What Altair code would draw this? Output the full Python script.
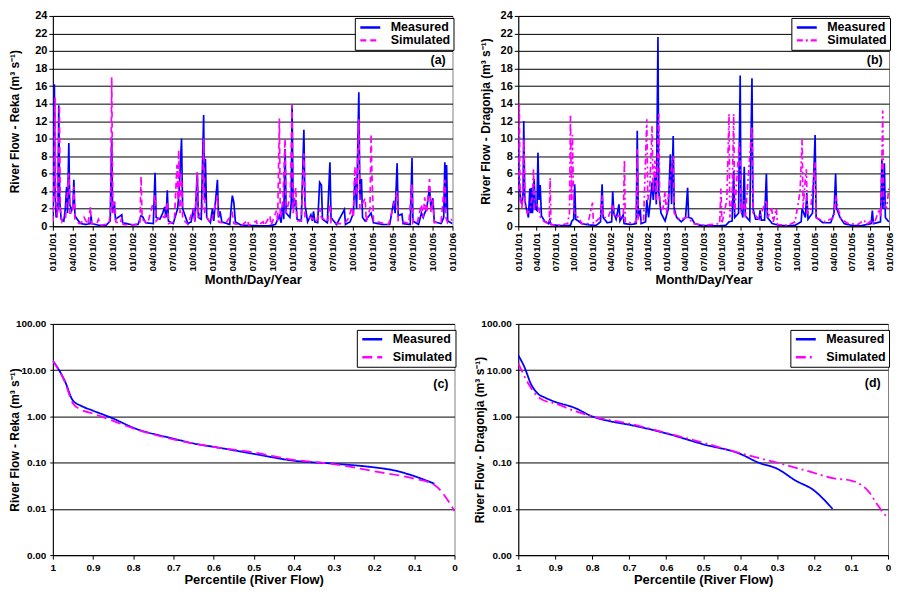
import altair as alt
import pandas as pd

FONT = "Liberation Sans"

REKA_MEASURED = [
    ("2001-01-01", 1.0), ("2001-01-05", 6.0), ("2001-01-08", 16.2), ("2001-01-11", 4.0),
    ("2001-01-16", 1.0), ("2001-01-24", 2.0), ("2001-01-28", 13.8), ("2001-02-01", 3.0),
    ("2001-02-08", 0.8), ("2001-02-20", 0.6), ("2001-02-27", 2.0), ("2001-03-05", 4.5),
    ("2001-03-09", 1.5), ("2001-03-15", 9.5), ("2001-03-19", 2.5), ("2001-03-28", 1.8),
    ("2001-04-03", 2.3), ("2001-04-07", 5.3), ("2001-04-12", 1.2), ("2001-04-25", 0.7),
    ("2001-05-10", 0.3), ("2001-06-01", 0.2), ("2001-06-20", 0.3), ("2001-06-25", 1.2),
    ("2001-06-28", 0.3), ("2001-08-01", 0.1), ("2001-09-01", 0.1), ("2001-09-20", 0.6),
    ("2001-09-27", 10.0), ("2001-10-01", 1.5), ("2001-10-09", 2.8), ("2001-10-14", 0.8),
    ("2001-11-12", 1.3), ("2001-11-16", 0.4), ("2002-01-01", 0.15), ("2002-01-25", 0.2),
    ("2002-02-08", 1.2), ("2002-02-15", 1.1), ("2002-03-01", 0.4), ("2002-04-05", 0.3),
    ("2002-04-13", 6.1), ("2002-04-18", 1.0), ("2002-05-05", 0.8), ("2002-05-18", 1.5),
    ("2002-05-27", 2.2), ("2002-06-02", 1.0), ("2002-06-08", 4.1), ("2002-06-13", 0.6),
    ("2002-07-05", 0.3), ("2002-07-25", 2.0), ("2002-08-01", 4.0), ("2002-08-12", 10.0),
    ("2002-08-17", 2.0), ("2002-09-10", 0.3), ("2002-09-25", 0.5), ("2002-10-05", 2.0),
    ("2002-10-12", 0.6), ("2002-10-23", 6.0), ("2002-10-28", 1.0), ("2002-11-10", 0.8),
    ("2002-11-21", 12.7), ("2002-11-25", 3.0), ("2002-11-29", 7.7), ("2002-12-05", 1.0),
    ("2002-12-22", 0.4), ("2002-12-31", 2.0), ("2003-01-06", 0.6), ("2003-01-23", 5.3),
    ("2003-01-28", 1.0), ("2003-02-04", 1.7), ("2003-02-12", 0.5), ("2003-03-20", 0.2),
    ("2003-04-01", 3.5), ("2003-04-08", 2.7), ("2003-04-15", 0.5), ("2003-05-10", 0.15),
    ("2003-06-15", 0.08), ("2003-08-01", 0.05), ("2003-09-15", 0.05), ("2003-10-15", 0.2),
    ("2003-11-02", 1.2), ("2003-11-10", 0.4), ("2003-11-17", 2.8), ("2003-11-22", 0.8),
    ("2003-11-28", 8.8), ("2003-12-03", 1.5), ("2003-12-20", 1.0), ("2003-12-26", 2.6),
    ("2003-12-30", 13.8), ("2004-01-04", 2.0), ("2004-01-16", 3.0), ("2004-01-22", 0.8),
    ("2004-02-10", 0.6), ("2004-02-22", 11.0), ("2004-02-27", 2.5), ("2004-03-10", 0.5),
    ("2004-03-25", 1.3), ("2004-04-01", 0.6), ("2004-04-06", 1.7), ("2004-04-12", 0.5),
    ("2004-04-25", 0.4), ("2004-05-04", 5.0), ("2004-05-12", 4.7), ("2004-05-17", 0.8),
    ("2004-06-08", 0.4), ("2004-06-20", 7.3), ("2004-06-25", 1.0), ("2004-07-20", 0.2),
    ("2004-08-25", 1.9), ("2004-08-30", 0.2), ("2004-09-20", 0.5), ("2004-10-05", 1.5),
    ("2004-10-12", 5.5), ("2004-10-20", 2.0), ("2004-10-30", 15.3), ("2004-11-04", 3.0),
    ("2004-11-11", 5.4), ("2004-11-16", 1.0), ("2004-11-28", 0.6), ("2004-12-25", 1.5),
    ("2005-01-05", 0.4), ("2005-02-15", 0.2), ("2005-03-20", 0.2), ("2005-04-08", 2.9),
    ("2005-04-14", 1.5), ("2005-04-23", 7.2), ("2005-04-28", 1.2), ("2005-05-15", 1.4),
    ("2005-05-20", 0.3), ("2005-06-22", 0.2), ("2005-06-30", 7.8), ("2005-07-04", 0.6),
    ("2005-07-30", 0.2), ("2005-08-12", 1.5), ("2005-08-20", 1.0), ("2005-08-27", 1.5),
    ("2005-09-05", 2.0), ("2005-09-18", 4.4), ("2005-09-25", 2.0), ("2005-10-03", 3.2),
    ("2005-10-10", 0.5), ("2005-11-10", 0.3), ("2005-11-22", 1.0), ("2005-11-27", 7.3),
    ("2005-12-01", 2.0), ("2005-12-05", 7.0), ("2005-12-10", 0.6), ("2005-12-31", 0.3),
]

REKA_SIMULATED = [
    ("2001-01-01", 0.5), ("2001-01-06", 4.0), ("2001-01-11", 14.7), ("2001-01-14", 3.0),
    ("2001-01-22", 1.0), ("2001-01-31", 13.8), ("2001-02-04", 2.0), ("2001-02-12", 0.5),
    ("2001-02-28", 1.0), ("2001-03-06", 3.0), ("2001-03-15", 6.0), ("2001-03-20", 1.5),
    ("2001-04-01", 1.5), ("2001-04-07", 4.5), ("2001-04-12", 0.8), ("2001-05-01", 0.3),
    ("2001-05-20", 0.6), ("2001-05-24", 1.0), ("2001-06-10", 0.2), ("2001-06-22", 2.2),
    ("2001-06-26", 0.3), ("2001-07-20", 0.2), ("2001-07-28", 0.8), ("2001-08-10", 0.1),
    ("2001-09-15", 0.3), ("2001-09-22", 2.0), ("2001-09-27", 17.0), ("2001-10-02", 1.5),
    ("2001-10-10", 2.8), ("2001-10-16", 0.5), ("2001-11-05", 0.3), ("2001-11-12", 1.0),
    ("2001-11-18", 0.2), ("2001-12-20", 0.1), ("2002-02-03", 0.3), ("2002-02-08", 5.7),
    ("2002-02-13", 0.8), ("2002-03-10", 0.3), ("2002-04-13", 3.5), ("2002-04-18", 0.6),
    ("2002-05-10", 1.2), ("2002-05-27", 1.0), ("2002-06-08", 2.8), ("2002-06-14", 0.3),
    ("2002-07-10", 0.5), ("2002-07-22", 7.0), ("2002-07-27", 3.0), ("2002-07-30", 8.7),
    ("2002-08-05", 1.5), ("2002-08-12", 6.0), ("2002-08-17", 0.8), ("2002-09-10", 0.2),
    ("2002-10-05", 2.0), ("2002-10-12", 0.5), ("2002-10-23", 6.2), ("2002-10-28", 1.0),
    ("2002-11-15", 2.0), ("2002-11-21", 10.0), ("2002-11-26", 1.5), ("2002-12-20", 0.4),
    ("2002-12-31", 1.0), ("2003-01-23", 3.5), ("2003-01-28", 0.5), ("2003-03-01", 0.3),
    ("2003-04-01", 1.5), ("2003-04-08", 0.3), ("2003-05-15", 0.1), ("2003-06-10", 0.7),
    ("2003-06-15", 0.1), ("2003-07-20", 0.6), ("2003-07-25", 0.1), ("2003-08-20", 0.5),
    ("2003-08-25", 0.05), ("2003-09-20", 1.2), ("2003-09-25", 0.1), ("2003-10-20", 1.8),
    ("2003-10-25", 0.5), ("2003-11-02", 12.3), ("2003-11-06", 1.0), ("2003-11-17", 2.0),
    ("2003-11-28", 10.0), ("2003-12-03", 1.5), ("2003-12-22", 3.5), ("2003-12-30", 13.8),
    ("2004-01-04", 1.5), ("2004-01-16", 4.4), ("2004-01-21", 0.6), ("2004-02-10", 0.6),
    ("2004-02-22", 8.3), ("2004-02-27", 1.0), ("2004-03-25", 1.0), ("2004-04-06", 0.8),
    ("2004-04-20", 0.5), ("2004-05-04", 2.0), ("2004-05-12", 1.0), ("2004-06-10", 0.5),
    ("2004-06-20", 2.5), ("2004-06-25", 0.4), ("2004-07-15", 0.3), ("2004-08-25", 0.3),
    ("2004-09-15", 1.0), ("2004-09-27", 2.2), ("2004-10-05", 1.0), ("2004-10-12", 6.8),
    ("2004-10-20", 3.5), ("2004-10-30", 12.2), ("2004-11-04", 2.0), ("2004-11-28", 3.2),
    ("2004-12-03", 0.5), ("2004-12-20", 2.0), ("2004-12-25", 10.5), ("2004-12-29", 6.0),
    ("2005-01-05", 0.6), ("2005-02-10", 0.4), ("2005-03-15", 0.2), ("2005-04-08", 2.5),
    ("2005-04-23", 4.0), ("2005-04-28", 0.6), ("2005-05-20", 0.5), ("2005-06-15", 0.3),
    ("2005-06-30", 4.8), ("2005-07-04", 0.3), ("2005-07-25", 0.5), ("2005-08-12", 2.5),
    ("2005-08-20", 1.0), ("2005-08-27", 3.3), ("2005-09-05", 1.5), ("2005-09-18", 5.4),
    ("2005-09-25", 1.5), ("2005-10-03", 3.0), ("2005-10-10", 0.4), ("2005-11-10", 0.5),
    ("2005-11-27", 5.3), ("2005-12-02", 1.0), ("2005-12-10", 0.4), ("2005-12-31", 0.8),
]

DRAGONJA_MEASURED = [
    ("2001-01-01", 10.0), ("2001-01-05", 5.0), ("2001-01-12", 3.0), ("2001-01-20", 2.5),
    ("2001-01-25", 4.0), ("2001-01-28", 12.0), ("2001-02-02", 3.0), ("2001-02-10", 2.0),
    ("2001-02-20", 1.0), ("2001-02-27", 4.3), ("2001-03-03", 1.5), ("2001-03-07", 4.4),
    ("2001-03-12", 1.5), ("2001-03-20", 5.4), ("2001-03-26", 2.0), ("2001-04-03", 1.8),
    ("2001-04-08", 8.4), ("2001-04-13", 3.0), ("2001-04-19", 4.7), ("2001-04-25", 1.2),
    ("2001-05-10", 0.6), ("2001-05-30", 0.3), ("2001-06-05", 0.7), ("2001-06-10", 0.2),
    ("2001-07-15", 0.1), ("2001-08-20", 0.05), ("2001-09-15", 0.1), ("2001-09-22", 0.6),
    ("2001-10-01", 0.8), ("2001-10-06", 4.8), ("2001-10-11", 0.8), ("2001-11-10", 0.3),
    ("2001-12-15", 0.15), ("2002-01-20", 0.1), ("2002-02-10", 0.5), ("2002-02-18", 4.8),
    ("2002-02-23", 1.0), ("2002-03-15", 0.4), ("2002-04-06", 0.5), ("2002-04-11", 4.0),
    ("2002-04-17", 1.5), ("2002-04-28", 0.8), ("2002-05-12", 2.5), ("2002-05-17", 0.6),
    ("2002-06-02", 1.3), ("2002-06-06", 0.3), ("2002-07-10", 0.2), ("2002-08-05", 0.3),
    ("2002-08-10", 10.9), ("2002-08-15", 1.0), ("2002-08-25", 1.9), ("2002-08-29", 0.3),
    ("2002-09-20", 0.5), ("2002-09-26", 3.0), ("2002-10-05", 1.0), ("2002-10-22", 5.0),
    ("2002-10-28", 3.0), ("2002-11-05", 6.0), ("2002-11-12", 2.5), ("2002-11-20", 21.6),
    ("2002-11-24", 4.0), ("2002-12-05", 1.5), ("2002-12-25", 0.6), ("2003-01-10", 2.0),
    ("2003-01-20", 8.2), ("2003-01-26", 2.5), ("2003-02-03", 10.3), ("2003-02-08", 2.0),
    ("2003-02-20", 1.0), ("2003-03-15", 0.5), ("2003-04-05", 1.0), ("2003-04-15", 4.4),
    ("2003-04-20", 1.0), ("2003-05-05", 0.9), ("2003-05-20", 0.3), ("2003-06-20", 0.1),
    ("2003-08-01", 0.05), ("2003-09-20", 0.05), ("2003-10-20", 0.1), ("2003-11-05", 0.5),
    ("2003-11-20", 0.6), ("2003-11-28", 6.3), ("2003-12-03", 1.0), ("2003-12-22", 1.5),
    ("2003-12-30", 17.2), ("2004-01-03", 2.0), ("2004-01-12", 1.0), ("2004-01-19", 6.8),
    ("2004-01-24", 1.2), ("2004-02-15", 0.6), ("2004-02-26", 16.9), ("2004-03-02", 2.0),
    ("2004-03-15", 0.8), ("2004-04-01", 0.8), ("2004-04-06", 1.8), ("2004-04-12", 0.7),
    ("2004-04-28", 0.7), ("2004-05-07", 6.0), ("2004-05-12", 1.0), ("2004-06-05", 0.3),
    ("2004-07-10", 0.1), ("2004-08-20", 0.05), ("2004-09-25", 0.1), ("2004-10-25", 0.5),
    ("2004-10-30", 2.0), ("2004-11-15", 1.0), ("2004-11-22", 3.8), ("2004-11-28", 0.8),
    ("2004-12-20", 1.5), ("2005-01-02", 10.4), ("2005-01-07", 1.0), ("2005-02-10", 0.4),
    ("2005-03-20", 0.4), ("2005-04-05", 1.5), ("2005-04-13", 6.0), ("2005-04-18", 2.0),
    ("2005-05-05", 1.0), ("2005-05-25", 0.3), ("2005-07-01", 0.1), ("2005-08-15", 0.05),
    ("2005-10-05", 0.3), ("2005-10-11", 1.8), ("2005-10-16", 0.3), ("2005-11-20", 0.5),
    ("2005-11-27", 7.6), ("2005-12-02", 2.0), ("2005-12-09", 7.2), ("2005-12-14", 1.0),
    ("2005-12-31", 0.5),
]

DRAGONJA_SIMULATED = [
    ("2001-01-01", 4.0), ("2001-01-06", 14.0), ("2001-01-10", 3.0), ("2001-01-20", 2.0),
    ("2001-01-25", 6.0), ("2001-01-29", 10.0), ("2001-02-03", 2.5), ("2001-02-15", 1.5),
    ("2001-03-01", 2.0), ("2001-03-12", 3.5), ("2001-03-17", 6.6), ("2001-03-22", 2.0),
    ("2001-04-08", 2.5), ("2001-04-20", 1.0), ("2001-05-10", 0.5), ("2001-06-02", 0.3),
    ("2001-06-07", 5.5), ("2001-06-11", 0.2), ("2001-07-20", 0.1), ("2001-09-01", 0.3),
    ("2001-09-10", 1.5), ("2001-09-15", 12.6), ("2001-09-20", 3.0), ("2001-09-25", 10.4),
    ("2001-10-01", 2.0), ("2001-10-10", 1.2), ("2001-10-25", 1.0), ("2001-11-10", 0.3),
    ("2001-12-10", 0.3), ("2002-01-02", 2.7), ("2002-01-06", 0.3), ("2002-02-10", 1.0),
    ("2002-02-18", 3.5), ("2002-02-24", 1.0), ("2002-03-20", 1.0), ("2002-04-11", 2.5),
    ("2002-04-20", 1.0), ("2002-05-12", 1.2), ("2002-06-02", 0.8), ("2002-06-08", 7.6),
    ("2002-06-12", 0.5), ("2002-07-10", 0.4), ("2002-08-05", 0.5), ("2002-08-10", 8.8),
    ("2002-08-15", 0.6), ("2002-09-10", 0.5), ("2002-09-26", 12.2), ("2002-10-01", 3.0),
    ("2002-10-10", 4.0), ("2002-10-22", 11.4), ("2002-10-27", 4.0), ("2002-11-05", 7.5),
    ("2002-11-12", 3.0), ("2002-11-20", 10.3), ("2002-11-24", 12.8), ("2002-11-29", 2.0),
    ("2002-12-15", 2.0), ("2002-12-25", 4.0), ("2003-01-01", 1.5), ("2003-01-20", 5.5),
    ("2003-02-03", 8.0), ("2003-02-08", 1.5), ("2003-03-05", 0.8), ("2003-04-15", 1.0),
    ("2003-05-15", 0.3), ("2003-07-01", 0.1), ("2003-09-20", 0.3), ("2003-09-26", 4.3),
    ("2003-10-01", 0.3), ("2003-10-25", 3.0), ("2003-11-05", 12.8), ("2003-11-09", 1.0),
    ("2003-11-20", 3.0), ("2003-11-28", 12.8), ("2003-12-03", 1.5), ("2003-12-25", 9.5),
    ("2003-12-30", 7.0), ("2004-01-04", 1.5), ("2004-01-19", 3.0), ("2004-01-24", 1.0),
    ("2004-02-26", 11.4), ("2004-03-02", 1.5), ("2004-04-01", 0.8), ("2004-05-07", 3.0),
    ("2004-05-15", 1.0), ("2004-06-01", 2.2), ("2004-06-10", 0.5), ("2004-06-25", 2.0),
    ("2004-07-01", 0.2), ("2004-08-20", 0.1), ("2004-09-25", 0.5), ("2004-10-10", 2.5),
    ("2004-10-20", 4.0), ("2004-10-30", 9.9), ("2004-11-04", 2.0), ("2004-11-15", 5.5),
    ("2004-11-20", 6.5), ("2004-11-25", 1.5), ("2004-12-10", 1.7), ("2005-01-02", 7.3),
    ("2005-01-07", 1.0), ("2005-02-20", 0.5), ("2005-04-05", 1.0), ("2005-04-13", 3.5),
    ("2005-04-25", 2.0), ("2005-05-10", 0.8), ("2005-06-15", 0.3), ("2005-08-01", 0.2),
    ("2005-09-01", 0.7), ("2005-09-10", 0.2), ("2005-10-11", 0.7), ("2005-10-20", 0.3),
    ("2005-11-15", 2.0), ("2005-11-22", 1.0), ("2005-12-01", 13.2), ("2005-12-05", 3.0),
    ("2005-12-20", 2.0), ("2005-12-31", 4.3),
]

# Flow duration curves: (percentile, flow m3/s)
REKA_FDC_MEASURED = [
    (1.0, 16.1), (0.97, 5.8), (0.95, 2.2), (0.93, 1.7), (0.9, 1.33), (0.85, 0.9),
    (0.8, 0.57), (0.7, 0.33), (0.64, 0.25), (0.6, 0.22), (0.5, 0.155), (0.4, 0.11),
    (0.3, 0.095), (0.2, 0.079), (0.15, 0.068), (0.1, 0.051), (0.05, 0.035),
]
REKA_FDC_SIMULATED = [
    (1.0, 16.0), (0.97, 5.5), (0.95, 1.9), (0.93, 1.4), (0.9, 1.15), (0.85, 0.8),
    (0.8, 0.55), (0.7, 0.32), (0.6, 0.22), (0.5, 0.166), (0.4, 0.115), (0.3, 0.093),
    (0.2, 0.065), (0.1, 0.045), (0.05, 0.033), (0.0, 0.009),
]
DRAGONJA_FDC_MEASURED = [
    (1.0, 21.0), (0.984, 12.0), (0.965, 4.9), (0.945, 3.0), (0.93, 2.6), (0.9, 2.06),
    (0.85, 1.56), (0.8, 1.0), (0.75, 0.78), (0.7, 0.66), (0.6, 0.43), (0.5, 0.25),
    (0.4, 0.155), (0.35, 0.1), (0.3, 0.074), (0.25, 0.041), (0.2, 0.025), (0.15, 0.01),
]
DRAGONJA_FDC_SIMULATED = [
    (1.0, 14.0), (0.97, 4.7), (0.95, 2.8), (0.93, 2.2), (0.9, 1.9), (0.85, 1.33),
    (0.8, 1.0), (0.7, 0.7), (0.6, 0.44), (0.5, 0.27), (0.4, 0.16), (0.3, 0.1),
    (0.2, 0.06), (0.15, 0.046), (0.1, 0.041), (0.07, 0.032), (0.05, 0.0225),
    (0.03, 0.0127), (0.0, 0.0062),
]

SERIES = ["Measured", "Simulated"]
COLORS = ["#0000FF", "#FF00FF"]
TS_TICKS = [(y, m) for y in range(2001, 2006) for m in (1, 4, 7, 10)] + [(2006, 1)]
Y_TS_TICKS = list(range(0, 25, 2))
Y_LOG_TICKS = [0.001, 0.01, 0.1, 1, 10, 100]
X_PCT_TICKS = [0, 0.1, 0.2, 0.3, 0.4, 0.5, 0.6, 0.7, 0.8, 0.9, 1]

AX = dict(domainColor="black", domainWidth=1, tickColor="black",
          labelFont=FONT, labelFontWeight="bold", labelColor="black",
          titleFont=FONT, titleFontWeight="bold", titleColor="black",
          labelOverlap=False, labelFlush=False)

LINE_PATH = "M-2,0H2"


def legend(x, y, row_pad):
    return alt.Legend(title=None, orient="none", legendX=x, legendY=y,
                      direction="vertical", strokeColor="black", fillColor="white",
                      padding=3, rowPadding=row_pad, symbolType=LINE_PATH,
                      symbolSize=100, symbolStrokeWidth=2.5, symbolOffset=6,
                      labelOffset=14, labelFont=FONT, labelFontSize=12.5,
                      labelFontWeight="bold", labelColor="black", labelLimit=200)


def ts_panel(meas, sim, dash, ytitle, tag, width, leg_x, title_x):
    rows = [(d, v, "Measured") for d, v in meas] + [(d, v, "Simulated") for d, v in sim]
    df = pd.DataFrame(rows, columns=["date", "flow", "series"])
    leg = legend(leg_x, 2, 0)
    xdom = [alt.DateTime(year=2001, month=1, date=1, utc=True),
            alt.DateTime(year=2006, month=1, date=1, utc=True)]
    xvals = [alt.DateTime(year=yy, month=m, date=1, utc=True) for yy, m in TS_TICKS]
    x = alt.X("date:T", scale=alt.Scale(type="utc", domain=xdom, nice=False),
              axis=alt.Axis(values=xvals, labelExpr="utcFormat(datum.value, '%m/%d/%y')",
                            labelAngle=-90, labelFontSize=10, tickSize=4, labelPadding=2,
                            grid=False, title="Month/Day/Year", titleFontSize=13,
                            titlePadding=3, **AX))
    y = alt.Y("flow:Q", scale=alt.Scale(domain=[0, 24], nice=False),
              axis=alt.Axis(values=Y_TS_TICKS, labelFontSize=11, tickSize=4, labelPadding=2,
                            grid=True, gridColor="black", gridWidth=1,
                            title=ytitle, titleFontSize=12, titleX=title_x,
                            titleBaseline="middle", **AX))
    lines = alt.Chart(df).mark_line(strokeWidth=1.7, clip=True).encode(
        x=x, y=y,
        color=alt.Color("series:N", scale=alt.Scale(domain=SERIES, range=COLORS), legend=leg),
        strokeDash=alt.StrokeDash("series:N", scale=alt.Scale(domain=SERIES, range=[[1, 0], dash]), legend=leg),
    )
    tdf = pd.DataFrame({"date": ["2005-12-01"], "flow": [19.0], "label": [tag]})
    text = alt.Chart(tdf).mark_text(align="right", baseline="middle", font=FONT,
                                    fontSize=12.5, fontWeight="bold", color="black").encode(
        x=x, y=y, text="label:N")
    return alt.layer(lines, text).properties(width=width, height=211)


def fdc_panel(meas, sim, dash, ytitle, tag, width, leg_x, title_x, tag_x, tag_y):
    rows = [(p, v, "Measured") for p, v in meas] + [(p, v, "Simulated") for p, v in sim]
    df = pd.DataFrame(rows, columns=["pct", "flow", "series"])
    leg = legend(leg_x, 6, 5)
    x = alt.X("pct:Q", scale=alt.Scale(domain=[0, 1], reverse=True, nice=False),
              axis=alt.Axis(values=X_PCT_TICKS, format="~g", labelFontSize=10, tickSize=4,
                            labelPadding=3, grid=False, title="Percentile (River Flow)",
                            titleFontSize=13, titlePadding=1, **AX))
    y = alt.Y("flow:Q", scale=alt.Scale(type="log", domain=[0.001, 100], nice=False),
              axis=alt.Axis(values=Y_LOG_TICKS, format=".2f", labelFontSize=10, tickSize=3,
                            labelPadding=4, grid=True, gridColor="black", gridWidth=1,
                            title=ytitle, titleFontSize=12, titleX=title_x,
                            titleBaseline="middle", **AX))
    lines = alt.Chart(df).mark_line(strokeWidth=1.8, clip=True, interpolate="monotone").encode(
        x=x, y=y,
        color=alt.Color("series:N", scale=alt.Scale(domain=SERIES, range=COLORS), legend=leg),
        strokeDash=alt.StrokeDash("series:N", scale=alt.Scale(domain=SERIES, range=[[1, 0], dash]), legend=leg),
    )
    tdf = pd.DataFrame({"pct": [tag_x], "flow": [tag_y], "label": [tag]})
    text = alt.Chart(tdf).mark_text(align="right", baseline="middle", font=FONT,
                                    fontSize=12.5, fontWeight="bold", color="black").encode(
        x=x, y=y, text="label:N")
    return alt.layer(lines, text).properties(width=width, height=232)


a = ts_panel(REKA_MEASURED, REKA_SIMULATED, [6, 4],
             "River Flow - Reka (m³ s⁻¹)", "(a)", 401, 303, -38)
b = ts_panel(DRAGONJA_MEASURED, DRAGONJA_SIMULATED, [6, 3, 2, 3],
             "River Flow - Dragonja (m³ s⁻¹)", "(b)", 372, 274, -33)
c = fdc_panel(REKA_FDC_MEASURED, REKA_FDC_SIMULATED, [10, 5],
              "River Flow - Reka (m³ s⁻¹)", "(c)", 403, 305, -38, 0.015, 5.0)
d = fdc_panel(DRAGONJA_FDC_MEASURED, DRAGONJA_FDC_SIMULATED, [10, 4, 2, 4],
              "River Flow - Dragonja (m³ s⁻¹)", "(d)", 371, 273, -39, 0.02, 5.3)

indep = dict(color="independent", strokeDash="independent")
chart = (alt.concat(a, b, c, d, columns=2, align="each",
                    spacing={"row": 30, "column": 14})
         .resolve_scale(**indep).resolve_legend(**indep)
         .properties(padding=0, background="white")
         .configure_view(stroke="#808080", strokeWidth=1))

chart.save("out.html", embed_options={"renderer": "svg", "actions": False})
